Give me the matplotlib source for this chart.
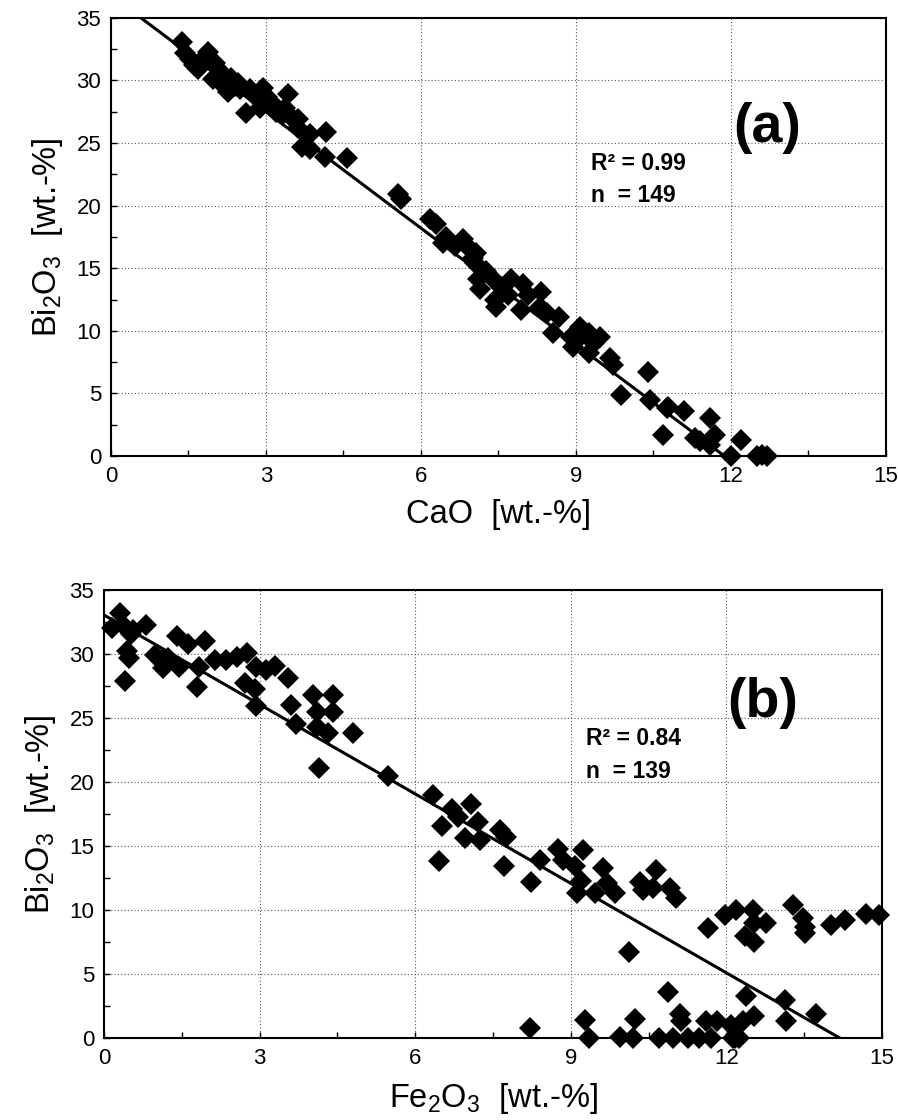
import numpy as np
import matplotlib
matplotlib.use('Agg')
import matplotlib.pyplot as plt
from matplotlib.ticker import MultipleLocator

plt.rcParams['font.family'] = ['Liberation Sans', 'DejaVu Sans']
plt.rcParams['mathtext.default'] = 'regular'

# panel (a): CaO vs Bi2O3
cao_x = [1.37, 1.43, 1.53, 1.69, 1.88, 1.79, 2.01, 2.08, 1.98, 2.14, 2.27, 2.33, 2.46, 2.50,
         2.69, 2.82, 2.95, 3.01, 2.62, 2.88, 3.14, 3.20, 3.43, 3.37, 3.33, 3.50, 3.62, 3.62,
         3.85, 3.69, 3.85, 4.17, 4.14, 4.57, 1.60, 2.20, 2.40, 3.05, 3.25,
         5.56, 5.62, 6.17, 6.30, 6.49, 6.43, 6.81, 6.94, 7.07, 7.04, 7.10, 7.14, 7.39, 7.43,
         7.46, 7.75, 7.68, 7.97, 7.94, 8.07, 8.33, 8.30, 8.43, 8.68, 6.65, 7.00, 7.25, 7.55,
         8.91, 8.56, 9.07, 9.26, 9.46, 8.94, 9.26, 9.65, 9.72, 10.39, 9.88, 10.43, 10.78,
         10.68, 9.00, 9.15, 9.35,
         11.09, 11.30, 11.60, 11.70, 11.60, 12.00, 12.20, 12.50, 12.70, 10.76, 11.40, 12.60]
cao_y = [33.1, 32.2, 31.7, 30.9, 32.3, 31.7, 31.4, 30.9, 30.1, 29.7, 29.1, 30.2, 29.8, 29.3,
         29.3, 28.6, 29.4, 28.7, 27.4, 27.8, 28.1, 27.5, 28.9, 27.8, 27.3, 27.0, 26.9, 26.2,
         25.7, 24.7, 24.5, 25.9, 23.9, 23.8, 31.2, 30.0, 29.6, 28.2, 27.6,
         20.9, 20.5, 18.9, 18.5, 17.5, 17.0, 17.3, 16.5, 16.2, 15.4, 14.1, 13.3, 14.1, 12.5,
         11.9, 14.1, 12.9, 13.7, 11.7, 12.9, 13.1, 11.9, 11.4, 11.1, 16.8, 15.8, 14.8, 13.5,
         9.5, 9.8, 10.3, 9.8, 9.5, 8.7, 8.2, 7.8, 7.3, 6.7, 4.9, 4.5, 3.9,
         1.7, 9.2, 9.9, 9.0,
         3.6, 1.4, 3.0, 1.7, 0.9, 0.0, 1.3, 0.0, 0.0, 3.8, 1.2, 0.1]

# panel (b): Fe2O3 vs Bi2O3
fe_x = [0.30, 0.15, 0.40, 0.53, 0.56, 0.44, 0.49, 0.40, 0.81, 0.98, 1.11, 1.14, 1.24, 1.40,
        1.62, 1.45, 1.95, 1.84, 1.80, 2.14, 2.36, 2.56, 2.75, 2.94, 3.13, 3.29, 2.72, 2.91,
        2.94, 3.55, 3.60, 3.71, 4.03, 4.42, 4.10, 4.42, 4.10, 4.32, 4.80, 4.14, 5.48,
        6.34, 6.70, 7.08, 6.51, 6.83, 7.21, 6.96, 7.24, 7.63, 7.76, 6.46, 7.71, 8.24, 8.40,
        8.75, 8.85, 9.24, 9.08, 9.20, 9.11, 9.62, 9.46, 9.69, 9.85, 10.33, 10.39, 10.65,
        10.58, 10.91, 11.03, 10.13,
        11.64, 11.97, 12.19, 12.51, 12.54, 12.77, 12.35, 12.54, 13.28, 13.47, 13.51, 13.51,
        14.02, 14.28, 14.70, 14.95,
        8.21, 9.27, 9.35, 9.94, 10.20, 10.23, 10.87, 11.10, 11.13, 10.71, 10.97, 11.26,
        11.48, 11.71, 11.61, 11.81, 12.09, 12.12, 12.25, 12.37, 12.32, 12.54, 13.12, 13.15,
        13.73, 12.16]
fe_y = [33.2, 32.0, 32.1, 31.6, 31.9, 30.2, 29.7, 27.9, 32.3, 29.9, 29.5, 28.9, 29.7, 31.4,
        30.8, 29.0, 31.0, 29.0, 27.4, 29.5, 29.5, 29.8, 30.1, 29.0, 28.75, 29.1, 27.7, 27.3,
        25.9, 28.1, 26.0, 24.5, 26.8, 26.8, 25.5, 25.5, 24.3, 23.8, 23.8, 21.1, 20.5,
        19.0, 17.9, 18.3, 16.6, 17.3, 16.9, 15.6, 15.5, 16.25, 15.7, 13.8, 13.4, 12.2, 13.9,
        14.8, 13.9, 14.7, 13.4, 12.3, 11.3, 13.3, 11.3, 12.1, 11.3, 12.2, 11.6, 13.1,
        11.7, 11.7, 10.9, 6.7,
        8.6, 9.6, 10.0, 10.0, 9.0, 9.0, 8.0, 7.5, 10.4, 9.35, 8.7, 8.2,
        8.8, 9.2, 9.7, 9.6,
        0.76, 1.4, 0.0, 0.1, 0.0, 1.5, 3.6, 1.9, 1.3, 0.0, 0.0, 0.0,
        0.0, 0.0, 1.3, 1.3, 1.0, 0.0, 0.0, 3.3, 1.3, 1.7, 3.0, 1.3,
        1.9, 0.0]

# regression lines (intercept, slope)
fit_a = (36.8, -3.10)
fit_b = (33.05, -2.33)

labels = ['(a)', '(b)']
r2_text = ['R² = 0.99', 'R² = 0.84']
n_text = ['n  = 149', 'n  = 139']
xlabels = ['CaO  [wt.-%]', 'Fe$_2$O$_3$  [wt.-%]']

fig = plt.figure(figsize=(8.98, 11.2), dpi=100)
ax1 = fig.add_axes([0.1236, 0.5929, 0.8630, 0.3911])
ax2 = fig.add_axes([0.1158, 0.0732, 0.8664, 0.4000])

panels = [(ax1, cao_x, cao_y, fit_a), (ax2, fe_x, fe_y, fit_b)]
for i, (ax, xs, ys, fit) in enumerate(panels):
    b, m = fit
    x_end = -b / m
    ax.plot([0, x_end], [b, 0], color='black', lw=2.2, zorder=2)
    ax.plot(xs, ys, 'D', color='black', ms=11.5, mew=0, zorder=3, clip_on=False)

    ax.set_xlim(0, 15)
    ax.set_ylim(0, 35)
    ax.xaxis.set_major_locator(MultipleLocator(3))
    ax.xaxis.set_minor_locator(MultipleLocator(1.5))
    ax.yaxis.set_major_locator(MultipleLocator(5))
    ax.yaxis.set_minor_locator(MultipleLocator(2.5))
    ax.grid(True, which='major', color='#555555', linestyle=(0, (1, 2)), lw=0.8)
    ax.tick_params(which='both', direction='in', length=4, width=1, labelsize=16)
    ax.tick_params(which='major', pad=7)
    for s in ax.spines.values():
        s.set_linewidth(1.5)

    ax.set_xlabel(xlabels[i], fontsize=23.5, labelpad=9)
    ax.set_ylabel('Bi$_2$O$_3$  [wt.-%]', fontsize=23.5, labelpad=8)

    ax.text(12.7, 26.2, labels[i], fontsize=40, fontweight='bold', ha='center', va='center')
    ax.text(9.3, 23.4, r2_text[i], fontsize=16.5, fontweight='bold', ha='left', va='center')
    ax.text(9.3, 20.8, n_text[i], fontsize=16.5, fontweight='bold', ha='left', va='center')

fig.savefig('out.png', dpi=100)
